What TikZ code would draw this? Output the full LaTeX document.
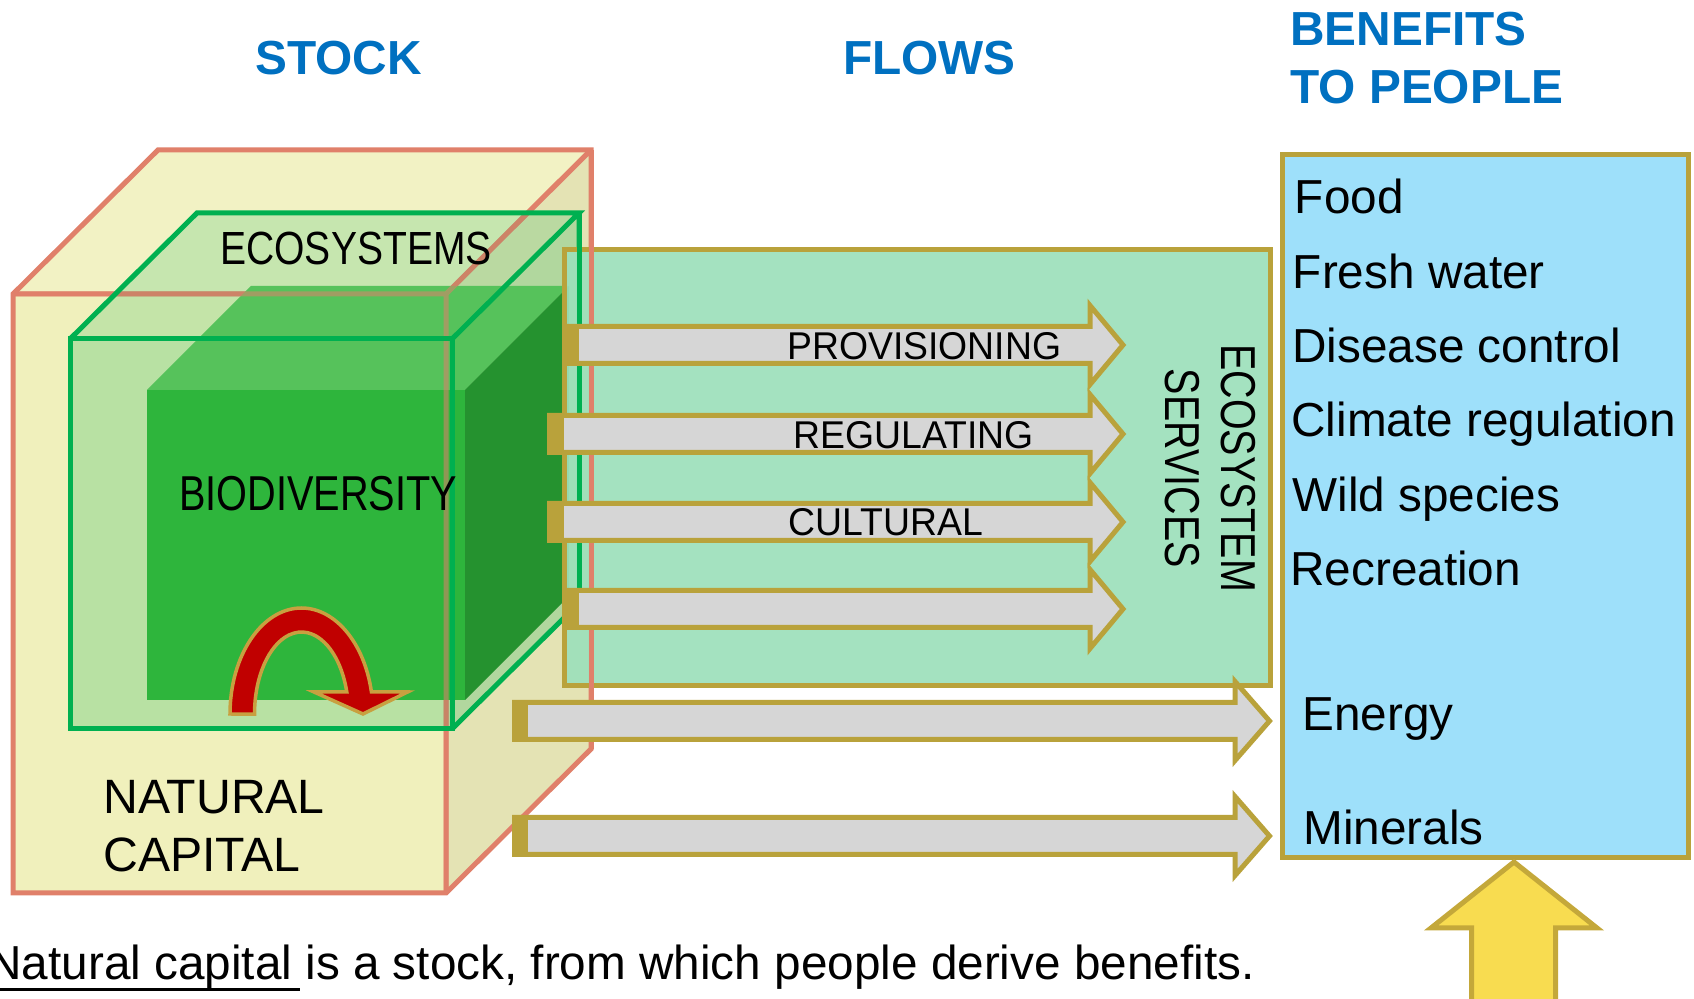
\documentclass[tikz,border=0pt]{standalone}
\usepackage{graphicx}
\usepackage{fontspec}
\setmainfont{Liberation Sans}
\usetikzlibrary{calc}

\definecolor{titleblue}{HTML}{0070C0}
\definecolor{salmon}{HTML}{E0806A}
\definecolor{ncfront}{HTML}{F0F0BC}
\definecolor{nctop}{HTML}{F2F2C4}
\definecolor{ncside}{HTML}{E4E3B4}
\definecolor{ecoline}{HTML}{00B050}
\definecolor{biofront}{HTML}{2EB53C}
\definecolor{biotop}{HTML}{56C25B}
\definecolor{bioside}{HTML}{25922F}
\definecolor{gold}{HTML}{B9A23B}
\definecolor{mint}{HTML}{9DE0BB}
\definecolor{flowgrey}{HTML}{D6D6D6}
\definecolor{skyblue}{HTML}{9EE0FA}
\definecolor{sunyellow}{HTML}{F8DC50}
\definecolor{sunedge}{HTML}{C4A83A}
\definecolor{loopred}{HTML}{C00000}
\definecolor{loopedge}{HTML}{C8A040}

% block arrow: left x, end of the gold cap, centre y, head base x, tip x
\newcommand\flowarrow[5]{%
  \draw[flowshape] (#1,#3-18.5) -- (#4,#3-18.5) -- (#4,#3-39.5) -- (#5,#3)
    -- (#4,#3+39.5) -- (#4,#3+18.5) -- (#1,#3+18.5) -- cycle;
  \fill[gold] (#1,#3-18.5) rectangle (#2,#3+18.5);
}

\begin{document}
\begin{tikzpicture}[x=0.5pt,y=-0.5pt,line join=miter,
  heading/.style={font=\fontsize{23.9}{28}\selectfont\bfseries, text=titleblue, inner sep=0},
  benefit/.style={font=\fontsize{23.85}{28}\selectfont, anchor=base west, inner sep=0},
  boxlabel/.style={font=\fontsize{24.1}{28}\selectfont, anchor=base west, inner sep=0},
  flowlabel/.style={font=\fontsize{19.35}{23}\selectfont, anchor=base west, inner sep=0},
  servlabel/.style={font=\fontsize{24.5}{29}\selectfont, anchor=base, inner sep=0, rotate=-90},
  ncedge/.style={draw=salmon, line width=2.5pt},
  ecoedge/.style={draw=ecoline, line width=2.5pt},
  flowshape/.style={draw=gold, fill=flowgrey, line width=2.5pt},
]
\useasboundingbox (0,0) rectangle (1694,999);

% ---------- natural capital cube ----------
\coordinate (F1) at (13,294);  \coordinate (F2) at (446,294);
\coordinate (F3) at (446,893); \coordinate (F4) at (13,893);
\coordinate (B1) at (158,150); \coordinate (B2) at (591,150);
\coordinate (B3) at (591,749);
\fill[ncfront] (F1) rectangle (F3);
\fill[nctop] (F1) -- (B1) -- (B2) -- (F2) -- cycle;
\fill[ncside] (F2) -- (B2) -- (B3) -- (F3) -- cycle;
\draw[ncedge] (F4) -- (F1) -- (B1) -- (B2) -- (B3) -- (F3) -- cycle;
\draw[ncedge] (F1) -- (F2) -- (F3) (F2) -- (B2);

% ---------- ecosystems cube (translucent) ----------
\coordinate (E1) at (70,339);  \coordinate (E2) at (452,339);
\coordinate (E3) at (452,729); \coordinate (E4) at (70,729);
\coordinate (EB1) at (197,213); \coordinate (EB2) at (579,213);
\coordinate (EB3) at (579,603);
\fill[ecoline, fill opacity=0.23] (E1) rectangle (E3);
\fill[ecoline, fill opacity=0.18] (E1) -- (EB1) -- (EB2) -- (E2) -- cycle;
\fill[ecoline, fill opacity=0.22] (E2) -- (EB2) -- (EB3) -- (E3) -- cycle;

% ---------- biodiversity cube ----------
\coordinate (D1) at (147,390); \coordinate (D2) at (465,390);
\coordinate (D3) at (465,700); \coordinate (D4) at (147,700);
\coordinate (DB1) at (251,286); \coordinate (DB2) at (569,286);
\coordinate (DB3) at (569,596);
\fill[biofront] (D1) rectangle (D3);
\fill[biotop] (D1) -- (DB1) -- (DB2) -- (D2) -- cycle;
\fill[bioside] (D2) -- (DB2) -- (DB3) -- (D3) -- cycle;

% front edges of the outer cube seen through the green cubes
\draw[ncedge, draw opacity=0.55] (F1) -- (F2) -- (F3) (F2) -- (B2);

% edges of the ecosystems cube
\draw[ecoedge] (E1) rectangle (E3);
\draw[ecoedge] (E1) -- (EB1) -- (EB2) -- (E2) (EB2) -- (EB3) -- (E3);

% ---------- circular flow inside biodiversity ----------
\draw[draw=loopedge, fill=loopred, line width=1.75pt]
  (230,714) arc[start angle=180, end angle=348, x radius=71.5, y radius=106]
  -- (407.6,692) -- (363,714) -- (314,692) -- (346.8,692)
  arc[start angle=344.4, end angle=180, x radius=47, y radius=82] -- cycle;

% ---------- cube labels ----------
\node[font=\fontsize{23.25}{28}\selectfont, anchor=base, inner sep=0] (ecosys) at (356,265)
  {\scalebox{0.84}[1]{ECOSYSTEMS}};
\node[font=\fontsize{24.5}{29}\selectfont, anchor=base west, inner sep=0] (biodiv) at (178.7,511)
  {\scalebox{0.81}[1]{BIODIVERSITY}};
\node[boxlabel] (natural) at (103,814) {NATURAL};
\node[boxlabel] (capital) at (103,872) {CAPITAL};

% ---------- ecosystem services panel ----------
\draw[draw=gold, fill=mint, fill opacity=0.93, line width=2.5pt] (564,250) rectangle (1270.5,686);
\draw[ncedge] (B2) -- (B3);
\draw[ecoedge] (EB2) -- (EB3);

% ---------- flows ----------
\flowarrow{565}{579}{345}{1090}{1123}
\flowarrow{549.5}{563.5}{434}{1090}{1123}
\flowarrow{549.5}{563.5}{522}{1090}{1123}
\flowarrow{565}{579}{609}{1090}{1123}
\flowarrow{514.5}{528}{721}{1235}{1269.5}
\flowarrow{514.5}{528}{836}{1235}{1269.5}

\node[flowlabel] (prov) at (787,359.3) {\scalebox{0.965}[1]{PROVISIONING}};
\node[flowlabel] (regu) at (793,448.3) {\scalebox{0.965}[1]{REGULATING}};
\node[flowlabel] (cult) at (788.5,536) {\scalebox{0.965}[1]{CULTURAL}};

\node[servlabel] (ecsys) at (1221.7,468.3) {\scalebox{0.805}[1]{ECOSYSTEM}};
\node[servlabel] (servs) at (1165,468.3) {\scalebox{0.805}[1]{SERVICES}};

% ---------- benefits to people ----------
\draw[draw=gold, fill=skyblue, line width=2.5pt] (1282.5,154.5) rectangle (1688.5,857.5);
\node[benefit] (food)  at (1294.5,214)   {Food};
\node[benefit] (water) at (1292.5,288.3) {Fresh water};
\node[benefit] (dis)   at (1292,362.6) {Disease control};
\node[benefit] (clim)  at (1291,436.9) {Climate regulation};
\node[benefit] (wild)  at (1292,511.2) {Wild species};
\node[benefit] (recr)  at (1290,585.5) {Recreation};
\node[benefit] (energy) at (1302,731)  {Energy};
\node[benefit] (miner)  at (1303,845) {Minerals};

% upward arrow under the benefits
\draw[draw=sunedge, fill=sunyellow, line width=2.5pt]
  (1514,862) -- (1597,928) -- (1555.5,928) -- (1555.5,1010)
  -- (1471.5,1010) -- (1471.5,928) -- (1431,928) -- cycle;

% ---------- headings ----------
\node[heading, anchor=base] (stock) at (338.5,75) {STOCK};
\node[heading, anchor=base] (flows) at (929.5,75) {FLOWS};
\node[heading, anchor=base west] (benef) at (1290,46) {BENEFITS};
\node[heading, anchor=base west] (topeo) at (1290,103.3) {TO PEOPLE};

% ---------- caption ----------
\node[font=\fontsize{23.85}{28}\selectfont, anchor=base west, inner sep=0] (caption) at (-13,979.5)
  {Natural capital is a stock, from which people derive benefits.};
\draw[line width=1.3pt] ($(caption.base west)+(0,10)$) -- ++(313,0);
\end{tikzpicture}
\end{document}
